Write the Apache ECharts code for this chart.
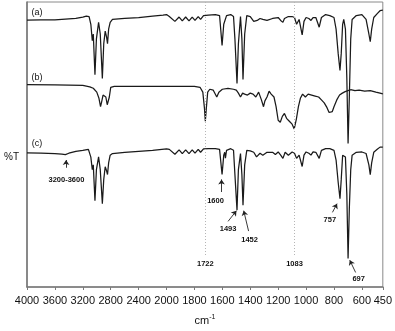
<!DOCTYPE html>
<html>
<head>
<meta charset="utf-8">
<script src="https://cdn.jsdelivr.net/npm/echarts@6/dist/echarts.min.js"></script>
<style>
html, body { margin: 0; padding: 0; background: #fff; }
#chart { width: 395px; height: 331px; }
</style>
</head>
<body>
<div id="chart"></div>
<script>
// x ticks (cm-1): 400 steps above 2000, 200 steps below (split scale)
const tickWaves = [4000, 3600, 3200, 2800, 2400, 2000, 1800, 1600, 1400, 1200, 1000, 800, 600, 450];

// trace depth, larger = lower on the plot (traces are stacked)
const waveA = [4000,3800,3600,3400,3300,3200,3150,3110,3085,3064,3050,3026,3005,2974,2950,2920,2900,2879,2860,2846,2830,2808,2775,2600,2400,2200,2050,2000,1980,1940,1910,1887,1863,1839,1816,1796,1773,1756,1735,1700,1650,1620,1602,1590,1583,1570,1540,1520,1510,1495,1485,1470,1460,1452,1440,1425,1400,1375,1350,1330,1310,1280,1240,1200,1182,1166,1155,1127,1100,1083,1068,1050,1028,1015,1000,980,965,950,930,906,890,860,830,800,785,770,757,748,738,730,718,708,699,690,680,670,640,600,570,550,540,530,515,490,470,450];
const traceA = [20.7,20.5,20.5,19.5,19,17.5,16.5,17,25,42,35,77,40,23,35,81,45,32,38,45,30,23,20,19,18,16.5,15.5,15,17,22,17.5,21.5,17.5,21.5,17.5,21,17,20,16,15.5,15,16,46.7,25,23,16,15,17,40,86,45,17,40,82,35,16,17,22,21,19,20,21,19,18,21,23,19,17,17,18,25,20,36,22,18,19,21,18,18,28,18,15,16,18,30,55,72.7,55,25,20,30,80,148,100,40,20,16,15,20,35,43,30,18,14,11,10.5];

const waveB = [4000,3600,3200,3100,3050,3000,2970,2946,2930,2910,2890,2870,2850,2840,2820,2800,2750,2400,2000,1900,1800,1760,1740,1728,1722,1715,1705,1690,1665,1640,1625,1600,1560,1520,1500,1485,1470,1455,1440,1420,1400,1380,1360,1340,1320,1305,1295,1280,1265,1250,1230,1215,1200,1185,1170,1155,1140,1120,1100,1085,1070,1055,1040,1025,1005,985,960,935,910,890,870,850,835,825,812,800,780,760,740,720,700,680,650,620,580,540,500,470,450];
const traceB = [87.3,87.5,88,89.5,91,95,101,110,105,98,96.7,100,108,110,100,90,89,89,89,89,89,90,95,112,125,112,95,92,93,100,95,92,91,92,93,96,100,96,97,98,96,97,100,95,103,110,104,100,94,97,100,110,124,126,120,117,122,125,128,133,123,110,101,97,100,97,98,99,100,103,106,111,116,118,115,110,103,98,96,94.5,93.5,92.5,93.5,93,94,93.5,95,96,96.7];

const waveC = [4000,3800,3600,3500,3450,3400,3300,3200,3120,3100,3085,3064,3050,3026,3005,2974,2950,2920,2900,2879,2860,2846,2830,2808,2775,2600,2400,2200,2000,1980,1940,1910,1887,1863,1839,1816,1796,1773,1756,1735,1700,1650,1620,1602,1590,1583,1578,1570,1540,1520,1510,1495,1485,1470,1460,1452,1440,1425,1400,1375,1355,1330,1310,1280,1240,1220,1200,1182,1166,1150,1127,1100,1083,1068,1050,1028,1015,1000,980,965,950,930,906,890,860,830,800,785,770,757,748,738,730,718,708,699,690,680,670,640,600,570,550,540,530,515,490,470,450];
const traceC = [157.7,158,158.5,159,159.5,158,156,155,154,156,162,175,170,207,175,161.7,175,210,185,172,176,180,168,160,158.3,157,156,155,153.5,154,159,154.5,158.5,154.5,158.5,154.5,158,154,157,153.5,153.3,153.3,154,180,160,157,163,155,153.3,155,180,216.7,175,158.3,180,211.7,170,155,155.5,157,161.7,158,160,157,157,159.3,156.7,160,163.3,157,160,156.7,158,163.3,160,171.7,160,156.7,158,160,156.7,157,163.3,155,153.3,153.3,155,165,188,205,185,160,158.3,162,200,266.7,215,175,160,157,156.7,158.3,170,180,168,157,154,151.7,151.7];

// wavenumber -> axis position (upper range compressed 2x)
function pos(w) {
  return w >= 2000 ? (4000 - w) / 2 : 3000 - w;
}
function unpos(p) {
  return p <= 1000 ? 4000 - 2 * p : 3000 - p;
}
function pairs(waves, vals) {
  return waves.map((w, i) => [pos(w), vals[i]]);
}

const FONT = 'Liberation Sans, Arial, sans-serif';
const labelStyle = { fontFamily: FONT, fontSize: 7.5, fontWeight: 'bold', color: '#111' };

function note(text, w, y) {
  return { name: text, coord: [pos(w), y] };
}
function arrow(w1, y1, w2, y2) {
  return [{ coord: [pos(w1), y1] }, { coord: [pos(w2), y2] }];
}

const chart = echarts.init(document.getElementById('chart'));

const lineStyle = { color: '#1a1a1a', width: 1.25 };

chart.setOption({
  animation: false,
  grid: { left: 27, right: 10, top: 2, bottom: 35, show: true, borderColor: '#8a8a8a', borderWidth: 1 },
  xAxis: {
    type: 'value',
    min: 0,
    max: pos(450),
    axisLine: { show: true, lineStyle: { color: '#7a7a7a', width: 1.6 } },
    axisTick: { show: true, length: 3, customValues: tickWaves.map(pos), lineStyle: { color: '#7a7a7a' } },
    axisLabel: {
      customValues: tickWaves.map(pos),
      formatter: v => String(Math.round(unpos(v))),
      fontFamily: FONT, fontSize: 11, color: '#111', margin: 8
    },
    splitLine: { show: false },
    name: 'cm{s|-1}',
    nameLocation: 'middle',
    nameGap: 27,
    nameTextStyle: {
      fontFamily: FONT, fontSize: 11, color: '#111',
      rich: { s: { fontFamily: FONT, fontSize: 7, color: '#111', padding: [0, 0, 6, 0] } }
    }
  },
  yAxis: {
    type: 'value',
    inverse: true,
    min: 2,
    max: 296,
    axisLine: { show: true, lineStyle: { color: '#7a7a7a', width: 1.6 } },
    axisTick: { show: false },
    axisLabel: { show: false },
    splitLine: { show: false }
  },
  graphic: [{
    type: 'text', left: 4, top: 152,
    style: { text: '%T', fontFamily: FONT, fontSize: 10, fill: '#111' }
  }],
  series: [
    { name: '(a)', type: 'line', data: pairs(waveA, traceA), showSymbol: false, lineStyle: lineStyle, z: 3 },
    { name: '(b)', type: 'line', data: pairs(waveB, traceB), showSymbol: false, lineStyle: lineStyle, z: 3 },
    {
      name: '(c)', type: 'line', data: pairs(waveC, traceC), showSymbol: false, lineStyle: lineStyle, z: 3,
      markLine: {
        silent: true,
        symbol: ['none', 'arrow'],
        symbolSize: 5,
        label: { show: false },
        lineStyle: { color: '#222', width: 0.9, type: 'solid' },
        data: [
          arrow(3440, 173, 3440, 165),
          arrow(1606, 198, 1606, 185),
          arrow(1559, 228.3, 1499, 217.3),
          arrow(1412, 238.3, 1447, 217.3),
          arrow(811, 219, 778, 210),
          arrow(645, 281, 687, 268.3),
          [{ coord: [pos(1722), 2], symbol: 'none', lineStyle: { color: '#b5b5b5', type: [1, 2], width: 1 } },
           { coord: [pos(1722), 265], symbol: 'none' }],
          [{ coord: [pos(1083), 2], symbol: 'none', lineStyle: { color: '#b5b5b5', type: [1, 2], width: 1 } },
           { coord: [pos(1083), 265], symbol: 'none' }]
        ]
      },
      markPoint: {
        silent: true,
        symbol: 'circle',
        symbolSize: 0,
        label: { show: true, position: 'inside', formatter: '{b}', ...labelStyle },
        data: [
          note('3200-3600', 3435, 186),
          note('1600', 1649, 207.7),
          note('1493', 1559, 236),
          note('1452', 1405, 247.3),
          note('1722', 1722, 272.3),
          note('1083', 1083, 272.3),
          note('757', 830, 226.7),
          note('697', 623, 287.7),
          { name: '(a)', coord: [pos(3858), 12.7], label: { fontWeight: 'normal', fontSize: 9 } },
          { name: '(b)', coord: [pos(3858), 80], label: { fontWeight: 'normal', fontSize: 9 } },
          { name: '(c)', coord: [pos(3858), 148.3], label: { fontWeight: 'normal', fontSize: 9 } }
        ]
      }
    }
  ]
});
</script>
</body>
</html>
